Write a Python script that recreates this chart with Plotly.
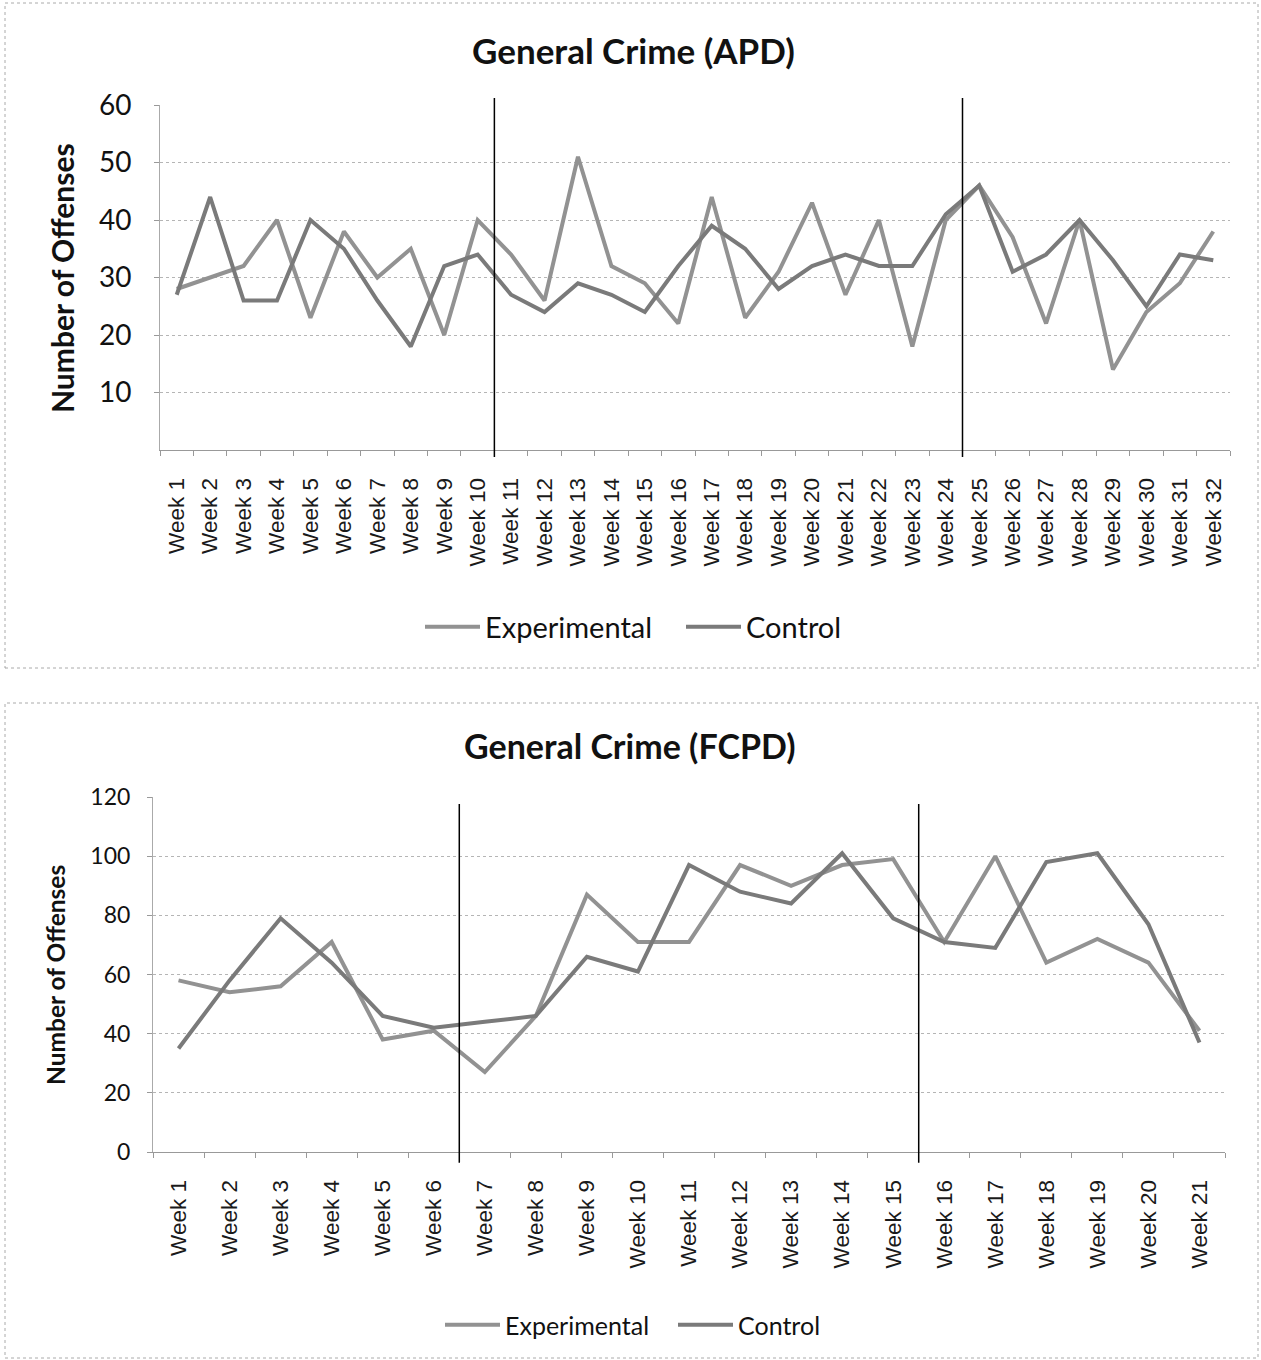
import plotly.graph_objects as go

# ---------------- data ----------------
apd_weeks = [f"Week {i}" for i in range(1, 33)]
apd_experimental = [28, 30, 32, 40, 23, 38, 30, 35, 20, 40, 34, 26, 51, 32, 29, 22,
                    44, 23, 31, 43, 27, 40, 18, 40, 46, 37, 22, 40, 14, 24, 29, 38]
apd_control = [27, 44, 26, 26, 40, 35, 26, 18, 32, 34, 27, 24, 29, 27, 24, 32,
               39, 35, 28, 32, 34, 32, 32, 41, 46, 31, 34, 40, 33, 25, 34, 33]
apd_yticks = [10, 20, 30, 40, 50, 60]
apd_phase_breaks = [9.5, 23.5]

fcpd_weeks = [f"Week {i}" for i in range(1, 22)]
fcpd_experimental = [58, 54, 56, 71, 38, 41, 27, 46, 87, 71, 71, 97, 90, 97, 99,
                     71, 100, 64, 72, 64, 41]
fcpd_control = [35, 58, 79, 64, 46, 42, 44, 46, 66, 61, 97, 88, 84, 101, 79,
                71, 69, 98, 101, 77, 37]
fcpd_yticks = [0, 20, 40, 60, 80, 100, 120]
fcpd_phase_breaks = [5.5, 14.5]

EXP_COLOR = "#929292"
CTRL_COLOR = "#7a7a7a"
W, H = 1261, 1360
CAL = "Lato, 'Open Sans', sans-serif"
ARI = "'Liberation Sans', Arial, sans-serif"
LW = 4

fig = go.Figure()

fig.add_trace(go.Scatter(x=apd_weeks, y=apd_experimental, mode="lines", name="Experimental",
                         line=dict(color=EXP_COLOR, width=LW), xaxis="x", yaxis="y",
                         legend="legend"))
fig.add_trace(go.Scatter(x=apd_weeks, y=apd_control, mode="lines", name="Control",
                         line=dict(color=CTRL_COLOR, width=LW), xaxis="x", yaxis="y",
                         legend="legend"))
fig.add_trace(go.Scatter(x=fcpd_weeks, y=fcpd_experimental, mode="lines", name="Experimental",
                         line=dict(color=EXP_COLOR, width=LW), xaxis="x2", yaxis="y2",
                         legend="legend2"))
fig.add_trace(go.Scatter(x=fcpd_weeks, y=fcpd_control, mode="lines", name="Control",
                         line=dict(color=CTRL_COLOR, width=LW), xaxis="x2", yaxis="y2",
                         legend="legend2"))


def px_x(v):
    return v / W


def px_y(v):
    return 1 - v / H


grid = dict(showgrid=True, gridcolor="#b5b5b5", griddash="dot", gridwidth=1)

fig.update_layout(
    width=W, height=H,
    margin=dict(l=0, r=0, t=0, b=0, autoexpand=False),
    paper_bgcolor="white", plot_bgcolor="white",
    showlegend=True,
    xaxis=dict(domain=[px_x(160), px_x(1230)], anchor="y", type="category",
               categoryorder="array", categoryarray=apd_weeks,
               range=[-0.5, len(apd_weeks) - 0.5], automargin=False,
               tickangle=-90, tickfont=dict(family=ARI, size=22.5, color="#1a1a1a"),
               ticks="outside", tickson="boundaries", ticklen=5, tickcolor="#999",
               showline=True, linecolor="#999", linewidth=1, showgrid=False,
               ticklabelstandoff=18, zeroline=False),
    yaxis=dict(domain=[px_y(450), px_y(105)], anchor="x", range=[0, 60], automargin=False,
               tickvals=apd_yticks, tickfont=dict(family=CAL, size=28, color="#111"),
               ticks="outside", ticklen=5, tickcolor="#999",
               showline=True, linecolor="#aaa", linewidth=1, zeroline=False,
               ticklabelstandoff=17, **grid),
    xaxis2=dict(domain=[px_x(153), px_x(1225)], anchor="y2", type="category",
                categoryorder="array", categoryarray=fcpd_weeks,
                range=[-0.5, len(fcpd_weeks) - 0.5], automargin=False,
                tickangle=-90, tickfont=dict(family=ARI, size=22.5, color="#1a1a1a"),
                ticks="outside", tickson="boundaries", ticklen=5, tickcolor="#999",
                showline=True, linecolor="#999", linewidth=1, showgrid=False,
                ticklabelstandoff=18, zeroline=False),
    yaxis2=dict(domain=[px_y(1152), px_y(797)], anchor="x2", range=[0, 120], automargin=False,
                tickvals=fcpd_yticks, tickfont=dict(family=CAL, size=23, color="#111"),
                ticks="outside", ticklen=5, tickcolor="#999",
                showline=True, linecolor="#aaa", linewidth=1, zeroline=False,
                ticklabelstandoff=12, **grid),
    legend=dict(orientation="h", x=px_x(420), xanchor="left", y=px_y(627), yanchor="middle",
                font=dict(family=CAL, size=29, color="#111"), itemwidth=55,
                entrywidth=191, bgcolor="rgba(0,0,0,0)"),
    legend2=dict(orientation="h", x=px_x(440), xanchor="left", y=px_y(1325), yanchor="middle",
                 font=dict(family=CAL, size=25, color="#111"), itemwidth=55,
                 entrywidth=163, bgcolor="rgba(0,0,0,0)"),
)

shapes = []
shapes.append(dict(type="rect", xref="paper", yref="paper", x0=px_x(5), x1=px_x(1258),
                   y0=px_y(668), y1=px_y(3), line=dict(color="#aaa", width=1, dash="dot")))
shapes.append(dict(type="rect", xref="paper", yref="paper", x0=px_x(5), x1=px_x(1258),
                   y0=px_y(1358), y1=px_y(703), line=dict(color="#aaa", width=1, dash="dot")))
for b in apd_phase_breaks:
    shapes.append(dict(type="line", xref="x", yref="y domain", x0=b, x1=b, y0=-0.02, y1=1.02,
                       line=dict(color="black", width=1.5)))
for b in fcpd_phase_breaks:
    shapes.append(dict(type="line", xref="x2", yref="y2 domain", x0=b, x1=b, y0=-0.03, y1=0.98,
                       line=dict(color="black", width=1.5)))
fig.update_layout(shapes=shapes)

annotations = [
    dict(text="<b>General Crime (APD)</b>", xref="paper", yref="paper", x=px_x(633), y=px_y(50),
         showarrow=False, font=dict(family=CAL, size=35, color="#111"), xanchor="center", yanchor="middle"),
    dict(text="<b>General Crime (FCPD)</b>", xref="paper", yref="paper", x=px_x(630), y=px_y(745),
         showarrow=False, font=dict(family=CAL, size=34, color="#111"), xanchor="center", yanchor="middle"),
    dict(text="<b>Number of Offenses</b>", xref="paper", yref="paper", x=px_x(62), y=px_y(278),
         showarrow=False, textangle=-90, font=dict(family=CAL, size=30, color="#111"),
         xanchor="center", yanchor="middle"),
    dict(text="<b>Number of Offenses</b>", xref="paper", yref="paper", x=px_x(55), y=px_y(975),
         showarrow=False, textangle=-90, font=dict(family=CAL, size=24.5, color="#111"),
         xanchor="center", yanchor="middle"),
]
fig.update_layout(annotations=annotations)

fig.write_html("out.html", config={"displayModeBar": False},
               post_script="document.body.style.margin='0';")
